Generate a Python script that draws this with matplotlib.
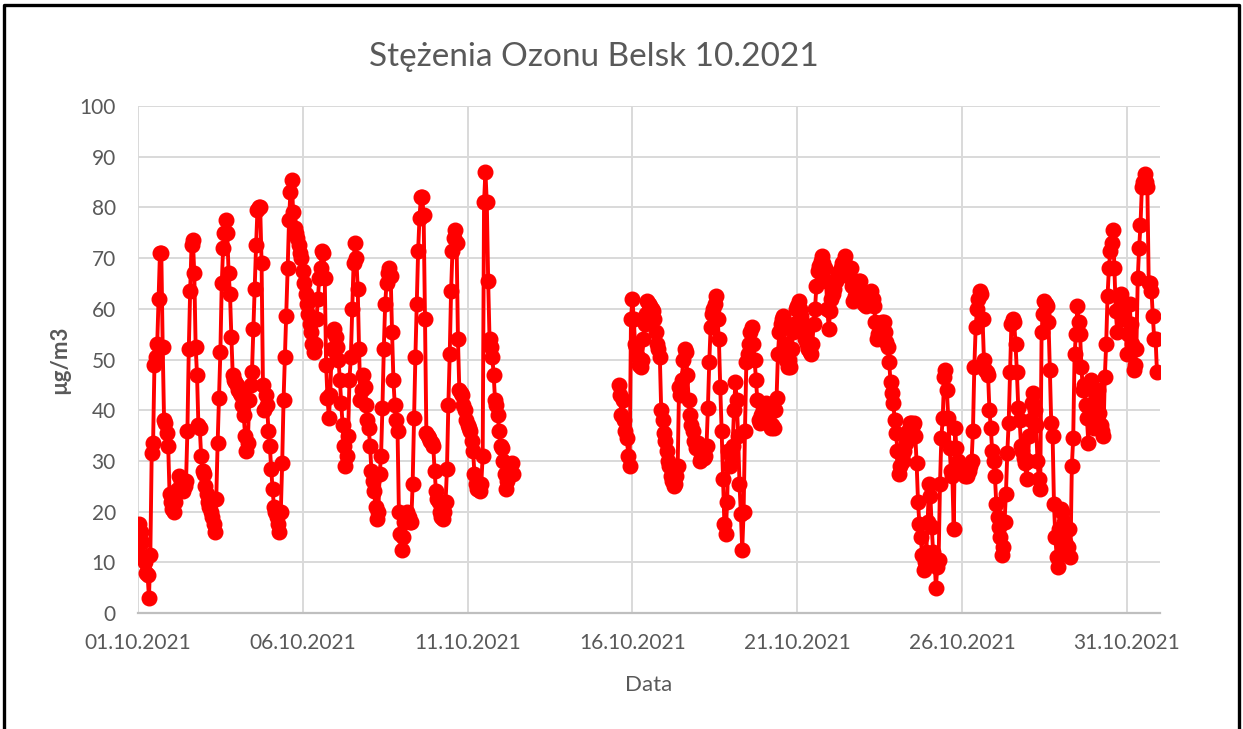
import matplotlib
matplotlib.use("Agg")
import matplotlib.pyplot as plt
import matplotlib.dates as mdates
from matplotlib.lines import Line2D
import numpy as np
import pandas as pd

# Hourly ozone concentrations, Belsk, October 2021 (µg/m3)
# first block starts 01.10.2021 00:00
start_1 = "2021-10-01 00:00"
ozone_1 = [
    13.5, 17.5, 16, 14, 11, 10, 8, 7.5, 3, 11.5, 31.5, 33.5, 49, 50.5, 53, 62, 71, 71, 52.5, 38, 37.5, 35.5, 33, 23.5,
    22, 20.5, 20, 22, 24, 24.5, 27, 26, 25, 24, 25, 26, 36, 52, 63.5, 72.5, 73.5, 67, 52.5, 47, 37, 36.5, 31, 28,
    27.5, 25, 23.5, 22, 21, 20, 19, 17.5, 16, 22.5, 33.5, 42.5, 51.5, 65, 72, 75, 77.5, 75, 67, 63, 54.5, 47, 46, 45.5,
    45, 44, 43.5, 43, 41, 39, 35, 32, 33.5, 42, 45, 47.5, 56, 64, 72.5, 79.5, 80, 80, 69, 45, 40, 43, 41, 36,
    33, 28.5, 24.5, 21, 20, 19, 17.5, 16, 20, 29.5, 42, 50.5, 58.5, 68, 77.5, 83, 85.5, 79, 76, 75, 74, 72.5, 71, 70,
    67.5, 65, 63, 61, 59, 57, 55.5, 53, 51.5, 53, 58, 62, 66, 68, 71.5, 71, 66, 49, 42.5, 38.5, 43, 52, 55.5, 56,
    54.5, 52.5, 50, 46, 41.5, 37, 33, 29, 31, 35, 46, 50.5, 60, 69, 73, 70, 64, 52, 42, 44, 47, 44.5, 41, 38,
    36.5, 33, 28, 26, 24, 21, 18.5, 20, 27.5, 31, 40.5, 52, 61, 65, 67, 68, 66.5, 55.5, 46, 41, 38, 36, 20, 15.5,
    12.5, 15, 18, 19, 20, 19, 18, 18, 25.5, 38.5, 50.5, 61, 71.5, 78, 82, 82, 78.5, 58, 35.5, 35, 34.5, 34, 33.5, 33,
    28, 24, 22.5, 22, 20, 19, 18.5, 20, 22, 28.5, 41, 51, 63.5, 71.5, 74, 75.5, 73, 54, 44, 43.5, 43, 41, 40, 38,
    37, 36.5, 36, 34, 32, 27.5, 25.5, 24.5, 25, 24, 25.5, 31, 81, 87, 81, 65.5, 54, 52.5, 50.5, 47, 42, 41, 39, 36,
    33, 32.5, 30, 27.5, 24.5, 26, 29, 28, 29.5, 27.5,
]

# second block after the measurement gap, starts 15.10.2021 14:00
start_2 = "2021-10-15 14:00"
ozone_2 = [
    45, 43, 39, 42, 38, 36, 34.5, 31, 29, 58,
    62, 58, 53, 52.5, 50.5, 49, 48.5, 50, 54, 57, 59, 61.5, 61, 60.5, 60, 59.5, 58, 55.5, 53, 52, 50.5, 40, 38, 35.5,
    34, 32, 30, 29, 27, 26, 25, 25.5, 27, 29, 44.5, 43, 46, 50, 52, 51.5, 47, 42, 39, 37, 36, 34, 32.5, 33,
    33.5, 30, 30.5, 31.5, 30.5, 31, 33, 40.5, 49.5, 56.5, 59, 60, 61, 62.5, 58, 54, 44.5, 36, 26.5, 17.5, 15.5, 22, 32, 29,
    31, 33, 40, 45.5, 42, 35, 25.5, 19.5, 12.5, 20, 36, 49.5, 51, 53, 55.5, 56.5, 53, 50, 46, 42, 38, 37.5, 39, 40,
    41, 41.5, 40, 38, 37, 36.5, 37, 36.5, 40, 42.5, 51, 55.5, 57, 58, 58.5, 53, 50, 48.5, 50, 48.5, 52, 55.5, 57, 60,
    60.5, 61.5, 60, 58.5, 57, 55.5, 54, 53, 52, 51.5, 51, 53, 57, 60, 64.5, 67.5, 68.5, 69.5, 70.5, 69, 68, 65.5, 60, 56,
    59.5, 62, 63, 64, 65.5, 66, 67, 67.5, 68, 69, 69.5, 70.5, 67, 66.5, 67.5, 68, 64.5, 61.5, 62.5, 63.5, 64.5, 65.5, 65.5, 62.5,
    62, 61, 60.5, 61, 62, 63, 63.5, 62, 60.5, 57.5, 54, 55, 56, 57, 57.5, 57.5, 55.5, 53.5, 52.5, 49.5, 45.5, 43.5, 41.5, 38,
    35.5, 32, 27.5, 29, 31, 30, 32, 33.5, 35, 36, 37.5, 37.5, 37, 37.5, 35, 29.5, 22, 17.5, 15, 11.5, 8.5, 10, 12, 18,
    25.5, 23, 17, 12, 11, 5, 9, 10.5, 25.5, 34.5, 38.5, 46.5, 48, 44, 38.5, 32.5, 28, 27, 16.5, 36.5, 32.5, 30, 29, 28.5,
    28, 29, 27, 28.5, 27, 28, 29, 30, 36, 48.5, 56.5, 60, 62, 63.5, 63, 58, 50, 48, 47.5, 47, 40, 36.5, 32, 30,
    27, 21.5, 19, 17, 15, 11.5, 13, 18, 23.5, 31.5, 37.5, 47.5, 57, 58, 57.5, 53, 47.5, 40.5, 38, 33, 32, 30.5, 29.5, 26.5,
    30, 35, 38, 41.5, 43.5, 40, 37, 30, 26.5, 24.5, 55.5, 59, 61.5, 61, 60.5, 57.5, 48, 37.5, 35, 21.5, 15, 11, 9, 16.5,
    20.5, 20, 18, 14, 12, 13, 16.5, 11, 29, 34.5, 51, 55, 60.5, 57.5, 55, 48.5, 44, 45, 41, 38.5, 33.5, 40, 46, 40,
    36.5, 37, 42, 44, 39.5, 37, 36, 35, 46.5, 53, 62.5, 68, 71.5, 73, 75.5, 68, 59.5, 55.5, 60, 62.5, 63, 60, 58, 61,
    51, 55, 61, 57, 53, 48, 49, 52, 66, 72, 76.5, 84, 85, 86.5, 85, 84, 65, 65, 63.5, 58.5, 54, 54, 47.5,
]

tick_dates = pd.date_range("2021-10-01", "2021-10-31", freq="5D")

t1 = pd.date_range(start_1, periods=len(ozone_1), freq="h")
t2 = pd.date_range(start_2, periods=len(ozone_2), freq="h")
times = t1.append(pd.DatetimeIndex([t1[-1] + pd.Timedelta(hours=1)])).append(t2)
values = np.array(ozone_1 + [np.nan] + ozone_2, dtype=float)

txt = "#595959"
font = ["Lato", "DejaVu Sans"]
plt.rcParams["font.family"] = font

fig = plt.figure(figsize=(12.43, 7.29), dpi=100)
ax = fig.add_axes([0.111, 0.159, 0.822, 0.6956])

ax.plot(times, values, color="#ff0000", lw=2.8, marker="o", ms=10.5,
        mec="#ff0000", mfc="#ff0000", zorder=3)

ax.set_ylim(0, 100)
ax.set_yticks(np.arange(0, 101, 10))
ax.set_xlim(pd.Timestamp("2021-10-01"), pd.Timestamp("2021-11-01"))
ax.set_xticks(tick_dates)
ax.xaxis.set_major_formatter(mdates.DateFormatter("%d.%m.%Y"))

ax.grid(True, color="#d9d9d9", lw=1.4)
ax.set_axisbelow(True)
for s in ["left", "right", "top"]:
    ax.spines[s].set_visible(False)
ax.spines["bottom"].set_color("#bfbfbf")
ax.spines["bottom"].set_linewidth(1.6)
ax.tick_params(length=0, labelsize=15, labelcolor=txt)
ax.tick_params(axis="x", pad=14)
ax.tick_params(axis="y", pad=16)

ax.set_xlabel("Data", fontsize=16, color=txt, labelpad=16)
ax.set_ylabel("µg/m3", fontsize=16, color=txt, fontweight="bold", labelpad=7)
fig.text(0.478, 0.922, "Stężenia Ozonu Belsk 10.2021", ha="center", va="center",
         fontsize=24, color=txt)

# black frame round the chart
fx = [4 / 1243, 4 / 1243, 1239 / 1243, 1239 / 1243]
fy = [-0.01, 1 - 5 / 729, 1 - 5 / 729, -0.01]
fig.add_artist(Line2D(fx, fy, color="black", lw=2.4, transform=fig.transFigure))

fig.savefig("out.png", dpi=100)
